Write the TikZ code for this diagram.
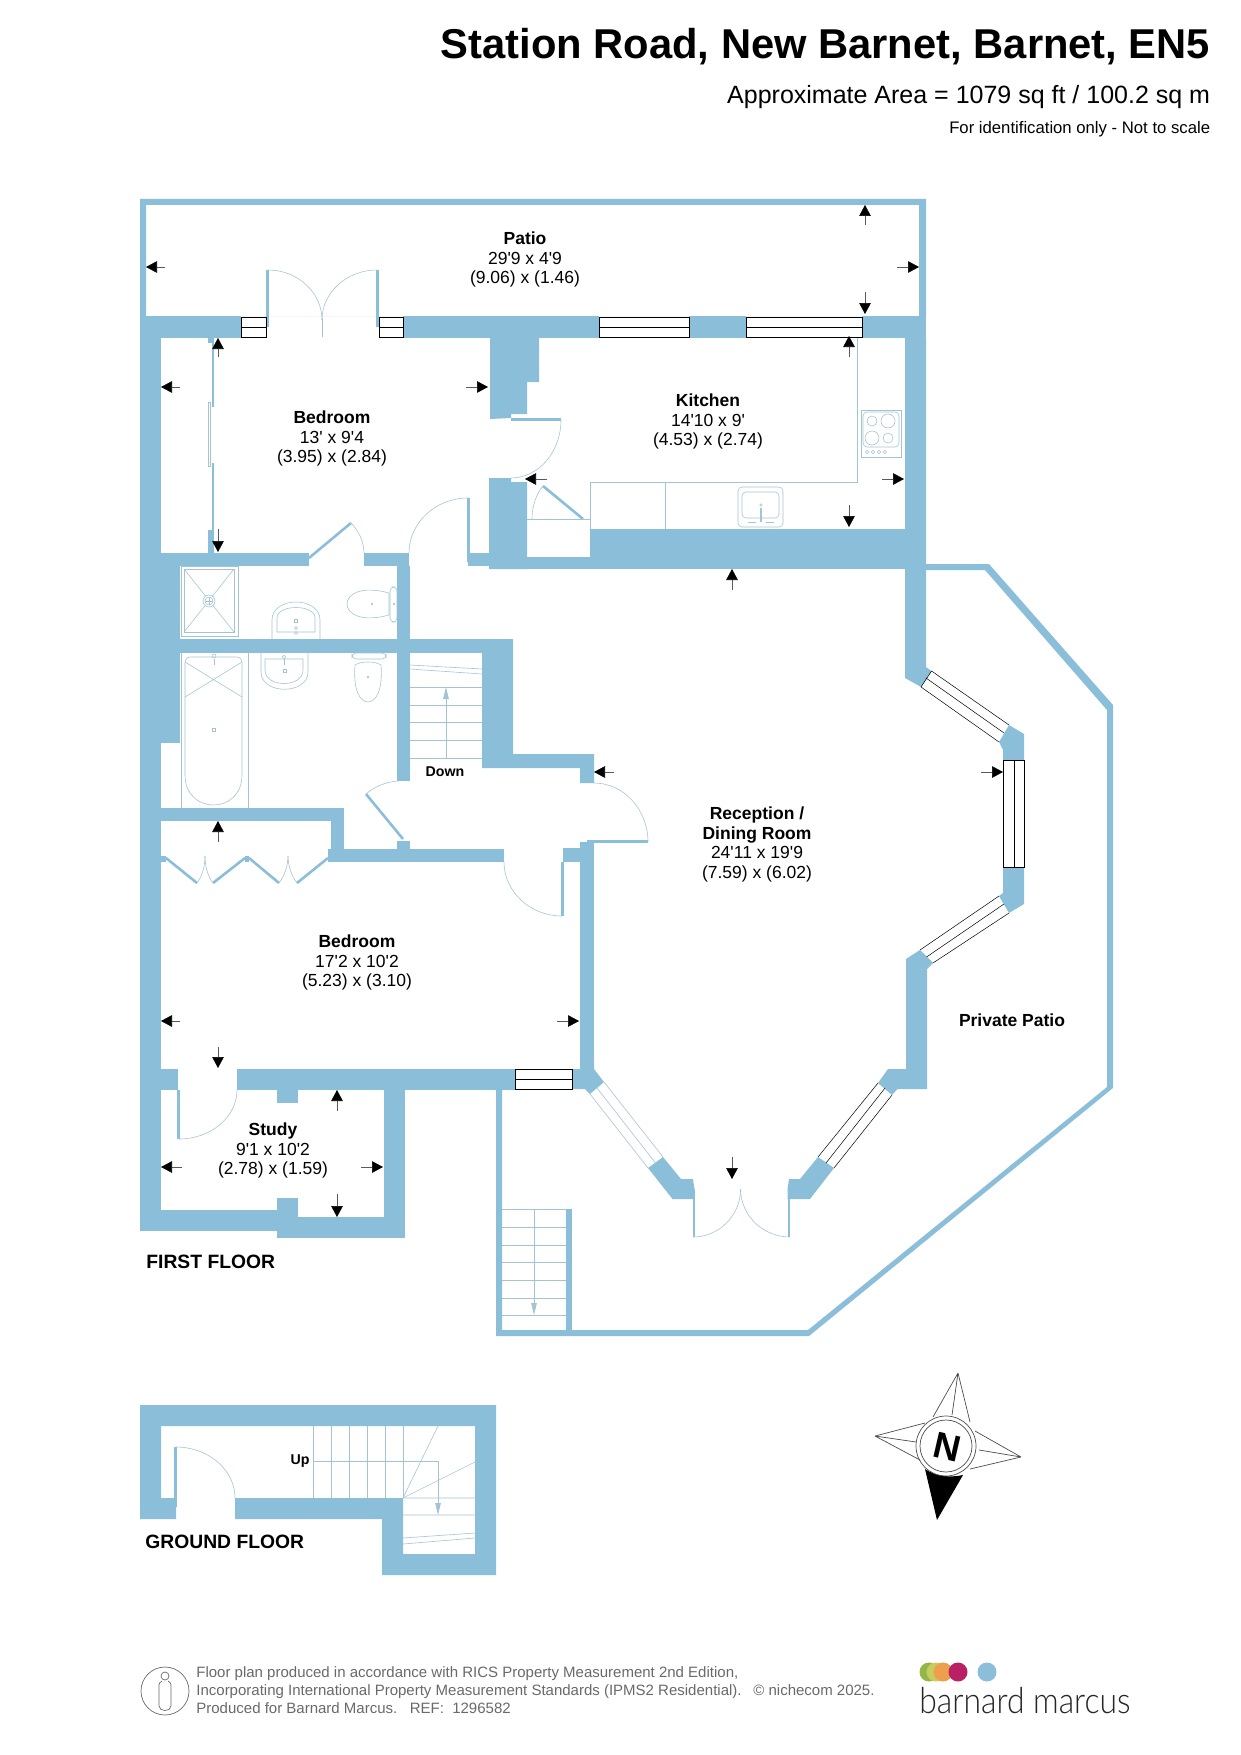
\documentclass[tikz,border=0pt]{standalone}
\usepackage{fontspec}
\usetikzlibrary{arrows.meta}
\newfontfamily\planfont{Liberation Sans}
\newfontfamily\logofont[UprightFont=* Light]{Lato}
\definecolor{wallblue}{RGB}{139,190,216}
\definecolor{fitline}{RGB}{165,196,211}
\definecolor{footgray}{RGB}{105,105,105}
\tikzset{
    wall/.style = {fill = wallblue},
    fitting/.style = {draw = fitline, line width = 0.3pt},
    leaf/.style = {draw = wallblue, line width = 1.3pt},
    pane/.style = {draw = black, fill = white, line width = 0.38pt},
    thinpane/.style = {draw = black, line width = 0.25pt},
    dimarrow/.style = {draw = black!65, line width = 0.3pt, -{Triangle[length = 5.5pt, width = 5.8pt, black]}},
    stairarrow/.style = {draw = fitline, line width = 0.4pt, -{Triangle[length = 6pt, width = 2.8pt, fitline]}},
    roomlabel/.style = {font = \planfont\fontsize{8.75}{9.75}\selectfont, align = center, inner sep = 0pt},
    floorlabel/.style = {font = \planfont\bfseries\fontsize{9.65}{11}\selectfont, anchor = base west, inner sep = 0pt},
    footline/.style = {font = \planfont\fontsize{7.5}{9}\selectfont, text = footgray, anchor = base west, inner sep = 0pt}
}
\newcommand{\swing}[4]{\draw [fitting] (#1,#2) .. controls ({#1+0.55*(#3-(#1))},#2) and (#3,{#4-0.55*(#4-(#2))}) .. (#3,#4);}
\begin{document}
\begin{tikzpicture}[x = 0.5pt, y = -0.5pt]
    \useasboundingbox (0,0) rectangle (1241,1755);

    \node (title) [font = \planfont\bfseries\fontsize{20.85}{24}\selectfont, anchor = base east, inner sep = 0pt] at (1210.5,59) {Station Road, New Barnet, Barnet, EN5};
    \node (area) [font = \planfont\fontsize{12.5}{15}\selectfont, anchor = base east, inner sep = 0pt] at (1210.5,104) {Approximate Area = 1079 sq ft / 100.2 sq m};
    \node (scalenote) [font = \planfont\fontsize{8.35}{10}\selectfont, anchor = base east, inner sep = 0pt] at (1210.5,134) {For identification only - Not to scale};

    \fill [wall, even odd rule] (140,199) rectangle (926,316) (146,205) rectangle (919,316);
    \fill [wall] (140,316) rectangle (161,1231);
    \fill [wall] (161,316) rectangle (241,338);
    \fill [wall] (403,316) rectangle (599,338);
    \fill [wall] (689,316) rectangle (746,338);
    \fill [wall] (862,316) rectangle (926,338);
    \fill [wall] (266,270) rectangle (269,327);
    \fill [wall] (376,270) rectangle (379,327);
    \fill [wall] (208,338) rectangle (213,343);
    \fill [wall] (212,338) rectangle (214,407);
    \fill [wall] (212,463) rectangle (214,530);
    \fill [wall] (208,530) rectangle (214,553);
    \draw [fitting] (208,402) rectangle (210.5,466);

    \fill [wall] (490,338) -- (539,338) -- (539,382) -- (527,382) -- (527,414) -- (511,414) -- (511,418) -- (490,419) -- cycle;
    \fill [wall] (511,418) rectangle (561,420.5);
    \fill [wall] (489,478) -- (511,478) -- (511,482) -- (527,482) -- (527,569) -- (489,569) -- cycle;
    \fill [wall] (590,529) rectangle (905,569);
    \fill [wall] (527,557) rectangle (590,569);
    \fill [wall] (468,553) rectangle (489,566);
    \fill [wall] (467,498) rectangle (470,562);
    \fill [wall] (905,338) -- (926,338) -- (926,667) -- (931.5,671) -- (921,687) -- (905,678) -- cycle;

    \fill [wall] (161,553) rectangle (309,566);
    \fill [wall] (364,553) rectangle (409,566);
    \fill [wall] (161,566) rectangle (180,743);
    \fill [wall] (397,566) rectangle (410,781);
    \fill [wall] (180,639) rectangle (482,653);
    \fill [wall] (482,639) -- (513,639) -- (513,754) -- (594,754) -- (594,783) -- (580,783) -- (580,768) -- (482,768) -- cycle;
    \fill [wall] (161,808) rectangle (344,821);
    \fill [wall] (331,821) rectangle (344,849);
    \fill [wall] (328,849) rectangle (504,862);
    \fill [wall] (397,841) rectangle (410,849);
    \fill [wall] (161,856) rectangle (166,862);
    \fill [wall] (245,856) rectangle (249,862);
    \fill [wall] (563,848) rectangle (580,862);
    \fill [wall] (561,862) rectangle (564,916);
    \fill [wall] (580,842) rectangle (594,1069);
    \fill [wall] (587,840) rectangle (648,843);

    \fill [wall] (237,1069) rectangle (515,1090);
    \fill [wall] (161,1069) rectangle (178,1090);
    \fill [wall] (177,1090) rectangle (180,1139);
    \fill [wall] (277,1090) rectangle (298,1103);
    \fill [wall] (384,1090) rectangle (405,1238);
    \fill [wall] (161,1210) rectangle (277,1231);
    \fill [wall] (277,1198) rectangle (298,1238);
    \fill [wall] (298,1217) rectangle (384,1238);

    \fill [wall] (581,1060) -- (594,1060) -- (594,1069) -- (604,1082) -- (590,1094) -- (585,1089) -- (573,1089) -- (573,1069) -- (581,1069) -- cycle;
    \fill [wall] (648,1168) -- (663,1157) -- (681,1179) -- (693,1179) -- (694.5,1189) -- (694.5,1199) -- (672.5,1199) -- cycle;
    \fill [wall] (818,1157) -- (834,1168) -- (810,1199) -- (787.5,1199) -- (787.5,1189) -- (789,1179) -- (800,1179) -- cycle;
    \fill [wall] (692.5,1189) rectangle (695,1237);
    \fill [wall] (787.5,1189) rectangle (790,1237);
    \fill [wall] (878,1083) -- (888,1069) -- (906,1069) -- (906,959) -- (920,950) -- (933,963) -- (927,969) -- (927,1089) -- (897.5,1089) -- (892,1095) -- cycle;
    \fill [wall] (1009,725) -- (1024,734) -- (1024,760) -- (1003,760) -- (1003,750) -- (999,742) -- cycle;
    \fill [wall] (1003,867) -- (1024,867) -- (1024,904) -- (1009,913) -- (999,896) -- (1003,893) -- cycle;

    \fill [wall] (926,564) -- (989,564) -- (1113,705) -- (1113,1088) -- (809,1336) -- (496,1336) -- (496,1090) -- (502,1090) -- (502,1330) -- (808,1330) -- (1107,1087) -- (1107,710) -- (985,570) -- (926,570) -- cycle;
    \fill [wall] (566,1209) rectangle (572,1330);

    \fill [wall] (140,1519) -- (140,1405) -- (496,1405) -- (496,1575) -- (382,1575) -- (382,1519) -- (235,1519) -- (235,1498) -- (403,1498) -- (403,1554) -- (475,1554) -- (475,1426) -- (161,1426) -- (161,1498) -- (176,1498) -- (176,1519) -- cycle;
    \fill [wall] (174,1447) rectangle (177,1507);

    \draw [pane] (241,317) rectangle (266,337);
    \draw [pane] (241,327) -- (266,327);
    \draw [pane] (379,317) rectangle (403,337);
    \draw [pane] (379,327) -- (403,327);
    \draw [pane] (599,317) rectangle (689,337);
    \draw [pane] (599,327) -- (689,327);
    \draw [pane] (746,317) rectangle (862,337);
    \draw [pane] (746,327) -- (862,327);
    \draw [pane] (515,1069.5) rectangle (572,1089.5);
    \draw [pane] (515,1079) -- (572,1079);
    \draw [thinpane] (931.5,671) -- (1009,725) (926,678) -- (1004,733) (921,687) -- (999,742) (931.5,671) -- (921,687);
    \draw [thinpane] (1003,760) rectangle (1024,867);
    \draw [thinpane] (1014,760) -- (1014,867);
    \draw [thinpane] (999,896) -- (920,950) (1004,904) -- (926.5,957) (1009,913) -- (933,963);
    \draw [thinpane] (878,1083) -- (818,1157) (885,1088) -- (826,1163) (892,1095) -- (834,1168);
    \draw [fitting] (590,1094) -- (648,1168) (597,1088) -- (655.5,1163) (604,1082) -- (663,1157);

    \swing{268}{270}{322}{320}
    \swing{377}{270}{322}{320}
    \draw [fitting] (322,318) -- (322,337);
    \draw [leaf] (309,558) -- (351,523);
    \draw [fitting] (351,523) .. controls (358,530) and (364,541) .. (364,553);
    \swing{468}{498}{409}{553}
    \swing{511}{478}{561}{420}
    \draw [leaf] (543,486) -- (583,519);
    \draw [fitting] (543,486) .. controls (537,493) and (532,505) .. (532,519);
    \swing{594}{783}{648}{842}
    \draw [leaf] (403,839) -- (366,794);
    \draw [fitting] (398,781) .. controls (385,782) and (374,787) .. (366,794);
    \swing{562}{916}{504}{862}
    \swing{179}{1139}{237}{1090}
    \swing{693}{1237}{740.6}{1189}
    \swing{790}{1237}{740.6}{1189}
    \swing{176}{1447}{235}{1498}
    \draw [leaf] (166,858) -- (197,883);
    \draw [leaf] (245,858) -- (213,883);
    \draw [leaf] (249,858) -- (279,883);
    \draw [leaf] (328,858) -- (297,883);
    \draw [fitting] (197,883) .. controls (203,875) and (205,865) .. (205,856);
    \draw [fitting] (213,883) .. controls (207,875) and (205,865) .. (205,856);
    \draw [fitting] (279,883) .. controls (285,875) and (288,865) .. (288,856);
    \draw [fitting] (297,883) .. controls (291,875) and (288,865) .. (288,856);

    \draw [fitting] (857,338) -- (857,482) -- (590,482) -- (590,529);
    \draw [fitting] (665,482) -- (665,529);
    \draw [fitting] (527,519) -- (590,519);
    \draw [fitting] (861,410) rectangle (901,457);
    \draw [fitting, rounded corners = 2pt] (863,412) rectangle (899,447);
    \draw [fitting] (872,421) circle (5);
    \draw [fitting] (888,421) circle (7);
    \draw [fitting] (872,438) circle (7);
    \draw [fitting] (888,438) circle (5);
    \draw [fitting] (867,452) circle (1.7);
    \draw [fitting] (873,452) circle (1.7);
    \draw [fitting] (879,452) circle (1.7);
    \draw [fitting] (885,452) circle (1.7);
    \draw [fitting, rounded corners = 2pt] (738,487) rectangle (783,527);
    \draw [fitting, rounded corners = 2pt] (742,492) rectangle (779,518);
    \draw [fitting] (761,505) circle (1.3);
    \draw [fitting, line width = 0.7pt] (761,508) -- (761,522);
    \draw [fitting] (748,522) -- (756,522) (766,522) -- (774,522);

    \draw [fitting] (181,566) rectangle (238,636);
    \draw [fitting] (184,569) rectangle (234,632);
    \draw [fitting] (184,569) -- (234,632) (234,569) -- (184,632);
    \draw [fitting, fill = white] (209,601) circle (6);
    \draw [fitting] (209,601) circle (4);
    \draw [fitting] (205,601) -- (213,601) (209,597) -- (209,605);
    \draw [fitting] (272,639) -- (272,620) .. controls (272,596) and (320,596) .. (320,620) -- (320,639);
    \draw [fitting] (277,632) -- (277,618) .. controls (277,604) and (315,604) .. (315,618) -- (315,632) -- cycle;
    \draw [fitting] (294.5,619.5) rectangle (297.5,622.5);
    \draw [fitting] (296,628) circle (1.5);
    \draw [fitting] (296,633) circle (1.5);
    \draw [fitting] (389,593) .. controls (360,585) and (347,595) .. (347,604) .. controls (347,613) and (360,623) .. (389,615) -- cycle;
    \draw [fitting, rounded corners = 2pt] (390,587) rectangle (397,622);
    \draw [fitting] (372,604) circle (1);
    \draw [fitting] (394,604) circle (1);

    \draw [fitting] (181,653) -- (181,808) (248,653) -- (248,808);
    \draw [fitting] (185,663) .. controls (185,659) and (187,657) .. (191,657) -- (236,657) .. controls (240,657) and (242,659) .. (242,663) -- (242,775) .. controls (242,815) and (185,815) .. (185,775) -- cycle;
    \draw [fitting] (185,662) -- (242,697) (242,662) -- (185,697);
    \draw [fitting] (214,656) circle (2);
    \draw [fitting] (214,659) -- (214,665);
    \draw [fitting] (212.5,728.5) rectangle (215.5,731.5);
    \draw [fitting] (261,653) -- (261,672) .. controls (261,695) and (308,695) .. (308,672) -- (308,653);
    \draw [fitting] (265,659) -- (303,659) -- (303,670) .. controls (303,688) and (265,688) .. (265,670) -- cycle;
    \draw [fitting] (284,657) circle (1.8);
    \draw [fitting] (284,659) -- (284,665);
    \draw [fitting] (283.5,669.5) rectangle (286.5,672.5);
    \draw [fitting, rounded corners = 2pt] (352,653) rectangle (386,659);
    \draw [fitting] (355,665) .. controls (353,690) and (360,702) .. (368,702) .. controls (376,702) and (383,690) .. (381,665) .. controls (375,661) and (361,661) .. (355,665) -- cycle;
    \draw [fitting] (368,677) circle (1);

    \draw [fitting] (410,665) -- (482,669) (410,669) -- (482,674);
    \draw [fitting] (410,687) -- (482,687) (410,705) -- (482,705) (410,722) -- (482,722) (410,740) -- (482,740) (410,758) -- (482,758);
    \draw [stairarrow] (446,758) -- (446,687);
    \draw [fitting] (502,1209) -- (566,1209) (502,1227) -- (566,1227) (502,1245) -- (566,1245) (502,1262) -- (566,1262) (502,1280) -- (566,1280) (502,1298) -- (566,1298) (502,1315) -- (566,1315);
    \draw [stairarrow] (534,1209) -- (534,1315);
    \draw [fitting] (313,1426) -- (313,1498) (331,1426) -- (331,1498) (349,1426) -- (349,1498) (367,1426) -- (367,1498) (385,1426) -- (385,1498) (403,1426) -- (403,1498);
    \draw [fitting] (403,1498) -- (438,1426) (403,1498) -- (475,1462);
    \draw [fitting] (403,1498) -- (475,1498) (403,1515) -- (475,1515) (403,1538) -- (475,1533) (403,1544) -- (475,1538);
    \draw [stairarrow] (314,1461) -- (438,1461) -- (438,1515);

    \draw [dimarrow] (165,267) -- (146,267);
    \draw [dimarrow] (897,267) -- (919,267);
    \draw [dimarrow] (865,225) -- (865,205);
    \draw [dimarrow] (865,292) -- (865,314);
    \draw [dimarrow] (218,357) -- (218,338);
    \draw [dimarrow] (218,529) -- (218,552);
    \draw [dimarrow] (180,387) -- (161,387);
    \draw [dimarrow] (466,387) -- (488,387);
    \draw [dimarrow] (849,357) -- (849,336);
    \draw [dimarrow] (849,505) -- (849,527);
    \draw [dimarrow] (547,479) -- (525,479);
    \draw [dimarrow] (882,479) -- (904,479);
    \draw [dimarrow] (732,590) -- (732,569);
    \draw [dimarrow] (614,772) -- (594,772);
    \draw [dimarrow] (981,772) -- (1003,772);
    \draw [dimarrow] (732,1157) -- (732,1179);
    \draw [dimarrow] (218,842) -- (218,821);
    \draw [dimarrow] (218,1047) -- (218,1068);
    \draw [dimarrow] (180,1021) -- (161,1021);
    \draw [dimarrow] (557,1021) -- (579,1021);
    \draw [dimarrow] (337,1111) -- (337,1090);
    \draw [dimarrow] (337,1194) -- (337,1217);
    \draw [dimarrow] (182,1167) -- (161,1167);
    \draw [dimarrow] (361,1167) -- (383,1167);

    \node (patio) [roomlabel] at (525,259.5) {\textbf{Patio}\\29'9 x 4'9\\(9.06) x (1.46)};
    \node (bedone) [roomlabel] at (332,438.5) {\textbf{Bedroom}\\13' x 9'4\\(3.95) x (2.84)};
    \node (kitchen) [roomlabel] at (708,421.5) {\textbf{Kitchen}\\14'10 x 9'\\(4.53) x (2.74)};
    \node (reception) [roomlabel] at (757,844.5) {\textbf{Reception /}\\\textbf{Dining Room}\\24'11 x 19'9\\(7.59) x (6.02)};
    \node (bedtwo) [roomlabel] at (357,962.5) {\textbf{Bedroom}\\17'2 x 10'2\\(5.23) x (3.10)};
    \node (study) [roomlabel] at (273,1150.5) {\textbf{Study}\\9'1 x 10'2\\(2.78) x (1.59)};
    \node (privatepatio) [roomlabel, font = \planfont\bfseries\fontsize{8.75}{9.75}\selectfont] at (1012,1020) {Private Patio};
    \node (downlabel) [roomlabel, font = \planfont\bfseries\fontsize{7.1}{8}\selectfont] at (445,771.5) {Down};
    \node (uplabel) [roomlabel, font = \planfont\bfseries\fontsize{7.1}{8}\selectfont] at (300,1461.5) {Up};
    \node (firstfloor) [floorlabel] at (146,1268) {FIRST FLOOR};
    \node (groundfloor) [floorlabel] at (145,1548) {GROUND FLOOR};

    \draw [black!70, line width = 0.35pt] (958,1373) -- (933,1417) (958,1373) -- (952,1415) (958,1373) -- (970,1422);
    \draw [black!70, line width = 0.35pt] (875,1436) -- (925,1423) (875,1436) -- (916,1442) (875,1436) -- (920,1460);
    \draw [black!70, line width = 0.35pt] (1021,1457) -- (975,1431) (1021,1457) -- (979,1450) (1021,1457) -- (970,1469);
    \fill [black] (937,1520) -- (925,1469) .. controls (935,1476) and (950,1478) .. (963,1475) -- cycle;
    \draw [black!70, line width = 0.35pt] (946,1446) circle (30);
    \draw [black!70, line width = 0.35pt] (946,1446) circle (26);
    \node (northmark) [font = \planfont\bfseries\fontsize{18.5}{20}\selectfont, rotate = -13, inner sep = 0pt] at (947.5,1447) {N};

    \draw [footgray, line width = 0.35pt] (165,1691) circle (24);
    \draw [footgray, line width = 0.35pt] (165,1676) circle (4);
    \draw [footgray, line width = 0.35pt] (162,1681) .. controls (158,1683) and (159,1686) .. (159,1690) -- (159,1706) .. controls (159,1712) and (171,1712) .. (171,1706) -- (171,1690) .. controls (171,1686) and (172,1683) .. (168,1681);
    \node (footone) [footline] at (196,1677) {Floor plan produced in accordance with RICS Property Measurement 2nd Edition,};
    \node (foottwo) [footline] at (196,1695) {Incorporating International Property Measurement Standards (IPMS2 Residential).};
    \node (footcopy) [footline] at (753,1695) {© nichecom 2025.};
    \node (footthree) [footline] at (196,1713) {Produced for Barnard Marcus.\ \ \ REF:\ \ 1296582};

    \fill [fill = {rgb,255:red,147;green,182;blue,72}] (929,1672) circle (9.5);
    \fill [fill = {rgb,255:red,198;green,205;blue,94}] (936,1672) circle (9.5);
    \fill [fill = {rgb,255:red,236;green,160;blue,78}] (943,1672) circle (9.5);
    \fill [fill = {rgb,255:red,186;green,32;blue,100}] (958,1672) circle (9.5);
    \fill [fill = wallblue] (987,1672) circle (9.5);
    \node (logotext) [font = \logofont\fontsize{18}{20}\selectfont, text = black!85, anchor = base west, inner sep = 0pt, xscale = 0.885] at (919,1713) {barnard marcus};
\end{tikzpicture}
\end{document}
